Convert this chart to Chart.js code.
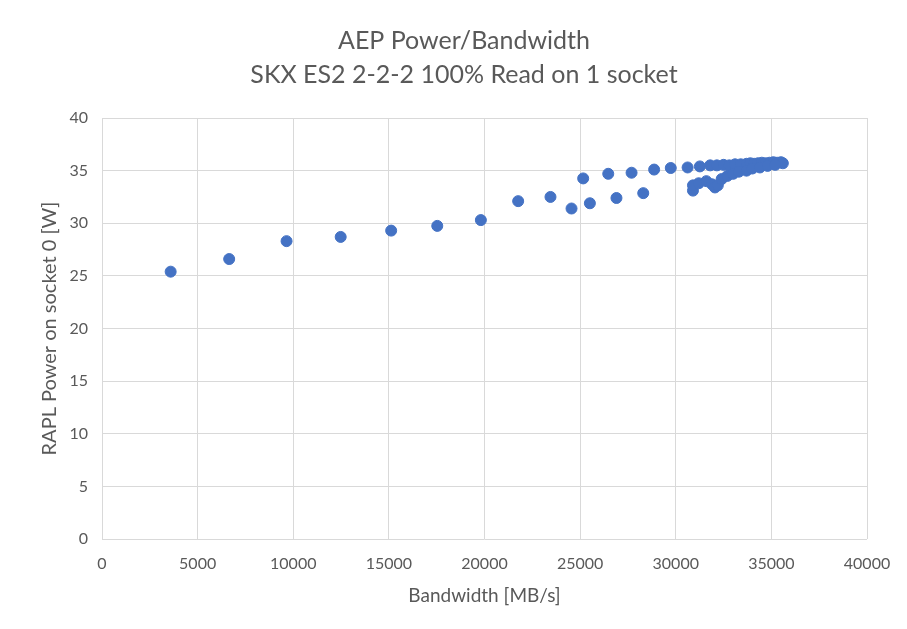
<!DOCTYPE html>
<html>
<head>
<meta charset="utf-8">
<script src="https://cdn.jsdelivr.net/npm/chart.js@4/dist/chart.umd.min.js"></script>
<style>
  html, body { margin: 0; padding: 0; background: #fff; overflow: hidden; }
  #wrap { width: 907px; height: 629px; }
</style>
</head>
<body>
<div id="wrap"><canvas id="aepChart" width="907" height="629"></canvas></div>
<script>
// bandwidth in MB/s, power in W
var bandwidth = [
  3590, 6650, 9650, 12480, 15120, 17530, 19810, 21760, 23450,
  24550, 25510, 26900, 28300,
  25160, 26470, 27690, 28870, 29740, 30620, 31260,
  31800, 32150, 32500, 32800, 33100, 33400, 33700, 33900, 34100,
  34300, 34500, 34700, 34900, 35100, 35300, 35500, 35600,
  30900, 30900, 31200, 31600, 31900, 32050, 32200, 32400, 32700,
  33000, 33300, 33700, 34000, 34400, 34800, 35200
];
var power = [
  25.4, 26.6, 28.3, 28.7, 29.3, 29.75, 30.3, 32.1, 32.5,
  31.4, 31.9, 32.4, 32.86,
  34.26, 34.7, 34.8, 35.1, 35.25, 35.3, 35.4,
  35.5, 35.5, 35.55, 35.5, 35.6, 35.6, 35.65, 35.7, 35.65,
  35.7, 35.75, 35.7, 35.75, 35.8, 35.75, 35.8, 35.7,
  33.1, 33.6, 33.8, 34.0, 33.7, 33.4, 33.6, 34.2, 34.5,
  34.7, 34.9, 35.0, 35.2, 35.3, 35.45, 35.55
];
var titleLines = ["AEP Power/Bandwidth", "SKX ES2 2-2-2 100% Read on 1 socket"];

var points = bandwidth.map(function (b, i) { return { x: b, y: power[i] }; });
var grey = '#595959';
var fontFam = 'Lato, "Open Sans", sans-serif';

// the two title lines sit a bit right of the canvas centre in the original
var titlePlugin = {
    id: 'twoLineTitle',
    afterDraw: function (chart) {
        var ctx = chart.ctx;
        ctx.save();
        ctx.fillStyle = grey;
        ctx.font = '25px ' + fontFam;
        ctx.textAlign = 'center';
        ctx.textBaseline = 'middle';
        ctx.fillText(titleLines[0], 464, 41);
        ctx.fillText(titleLines[1], 464, 75);
        ctx.restore();
    }
};

new Chart(document.getElementById('aepChart'), {
    type: 'scatter',
    data: {
        datasets: [{
            data: points,
            backgroundColor: '#4472C4',
            borderColor: '#4472C4',
            pointRadius: 5.5,
            pointHoverRadius: 5.5
        }]
    },
    plugins: [titlePlugin],
    options: {
        responsive: false,
        animation: false,
        layout: { padding: { left: 34, right: 40, top: 118, bottom: 22 } },
        plugins: {
            legend: { display: false },
            tooltip: { enabled: false },
            title: { display: false }
        },
        scales: {
            x: {
                type: 'linear',
                min: 0,
                max: 40000,
                ticks: {
                    stepSize: 5000, color: grey, padding: 15,
                    font: { family: fontFam, size: 16 },
                    callback: function (v) { return String(v); }
                },
                grid: { color: '#d9d9d9', drawTicks: false },
                border: { display: false },
                title: { display: true, text: 'Bandwidth [MB/s]', color: grey, font: { family: fontFam, size: 19 }, padding: { top: 10, bottom: 0 } },
                afterFit: function (scale) { scale.height = 68; }
            },
            y: {
                min: 0,
                max: 40,
                ticks: { stepSize: 5, color: grey, padding: 14, font: { family: fontFam, size: 16 } },
                grid: { color: '#d9d9d9', drawTicks: false },
                border: { display: false },
                title: { display: true, text: 'RAPL Power on socket 0 [W]', color: grey, font: { family: fontFam, size: 20 } },
                afterFit: function (scale) { scale.width = 68; }
            }
        }
    }
});
</script>
</body>
</html>
